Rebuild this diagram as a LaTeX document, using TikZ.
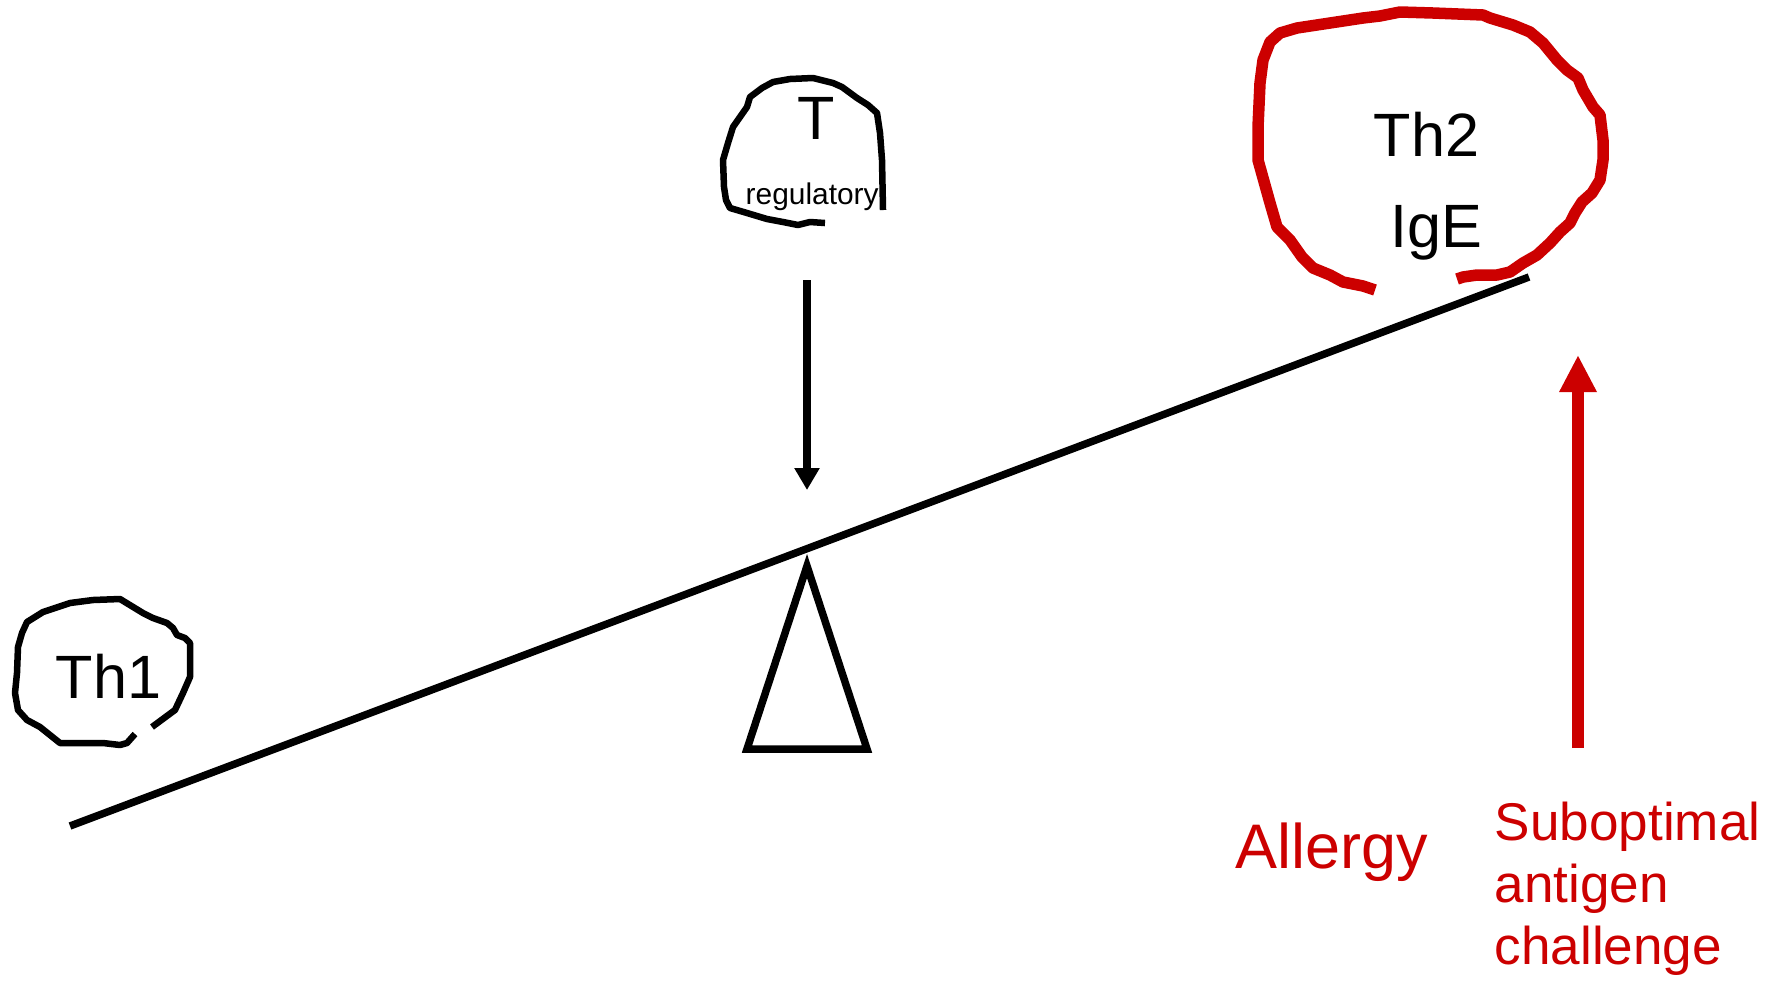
\documentclass[tikz,border=0pt]{standalone}
\usepackage{fontspec}
\setmainfont{Liberation Sans}
\usetikzlibrary{arrows.meta}
\definecolor{allergyred}{HTML}{CC0000}
\begin{document}
\begin{tikzpicture}[x=0.01cm,y=-0.01cm,
  cellline/.style={line width=0.065cm,line join=round},
  redcell/.style={line width=0.115cm,line join=round,draw=allergyred},
  biglabel/.style={inner sep=0pt,anchor=base west,font=\fontsize{17.4}{20}\selectfont},
  redlabel/.style={inner sep=0pt,text=allergyred},
  beamline/.style={line width=0.075cm},
  pushdown/.style={line width=0.075cm,-{Triangle[length=0.22cm,width=0.24cm]}},
  pushup/.style={line width=0.12cm,draw=allergyred,-{Triangle[length=0.37cm,width=0.35cm]}}]
\useasboundingbox (0,0) rectangle (1776,981);

% seesaw beam and pivot
\coordinate (beamL) at (70,826);
\coordinate (beamR) at (1529,277);
\draw[beamline] (beamL) -- (beamR);
\draw[beamline,line join=miter] (807,566) -- (867,749) -- (747,749) -- cycle;
\coordinate (pivot) at (807,490);

% Th1 cell
\draw[cellline] (152,727) -- (175,710) -- (183,693) -- (190,677) -- (190,643)
  -- (185,638) -- (177,635) -- (173,628) -- (167,623) -- (153,618) -- (143,613)
  -- (120,599) -- (93,600) -- (70,603) -- (43,612) -- (27,622) -- (22,633)
  -- (18,647) -- (17,673) -- (15,693) -- (18,710) -- (27,720) -- (40,727)
  -- (60,743) -- (80,743) -- (103,743) -- (120,745) -- (127,743) -- (135,734);
\node[biglabel] (th1) at (55,698) {Th1};

% regulatory T cell
\draw[cellline] (825,223) -- (810,222) -- (798,225) -- (783,222) -- (767,219)
  -- (747,213) -- (730,208) -- (726,200) -- (724,187) -- (723,160) -- (728,143)
  -- (733,127) -- (740,117) -- (747,107) -- (750,97) -- (762,88) -- (773,82)
  -- (790,79) -- (813,78) -- (833,83) -- (842,87) -- (857,98) -- (868,105)
  -- (877,113) -- (880,133) -- (882,160) -- (883,210);
\node[biglabel] (treg) at (797,139) {T};
\node[inner sep=0pt,anchor=base west,font=\fontsize{8.5}{10}\selectfont] (tregsub) at (745,204) {regulatory};
\coordinate (tregout) at (807,280);
\draw[pushdown] (tregout) -- (pivot);

% Th2 / IgE cell
\draw[redcell] (1375,290) -- (1363,286) -- (1343,282) -- (1330,275) -- (1313,268)
  -- (1302,257) -- (1290,240) -- (1277,227) -- (1270,203) -- (1258,160)
  -- (1258,127) -- (1260,83) -- (1263,60) -- (1270,42) -- (1280,33) -- (1297,28)
  -- (1330,23) -- (1363,18) -- (1380,16) -- (1400,12) -- (1433,13) -- (1483,15)
  -- (1490,18) -- (1513,25) -- (1530,32) -- (1543,43) -- (1557,60) -- (1567,70)
  -- (1578,78) -- (1583,90) -- (1593,107) -- (1600,115) -- (1603,140)
  -- (1603,160) -- (1600,180) -- (1592,193) -- (1582,202) -- (1575,213)
  -- (1570,223) -- (1560,232) -- (1550,243) -- (1537,255) -- (1523,263)
  -- (1510,272) -- (1497,275) -- (1477,275) -- (1463,277) -- (1457,279);
\node[biglabel] (th2) at (1373,156) {Th2};
\node[biglabel] (ige) at (1390,247) {IgE};

% antigen push
\coordinate (pushbase) at (1578,748);
\coordinate (pushtip) at (1578,355);
\draw[pushup] (pushbase) -- (pushtip);

\node[redlabel,anchor=base west,font=\fontsize{17.9}{20}\selectfont] (allergy) at (1235,868) {Allergy};
\node[redlabel,anchor=north west,align=left,font=\fontsize{15.1}{17.7}\selectfont] (challenge) at (1494,801)
  {Suboptimal\\antigen\\challenge};
\end{tikzpicture}
\end{document}
